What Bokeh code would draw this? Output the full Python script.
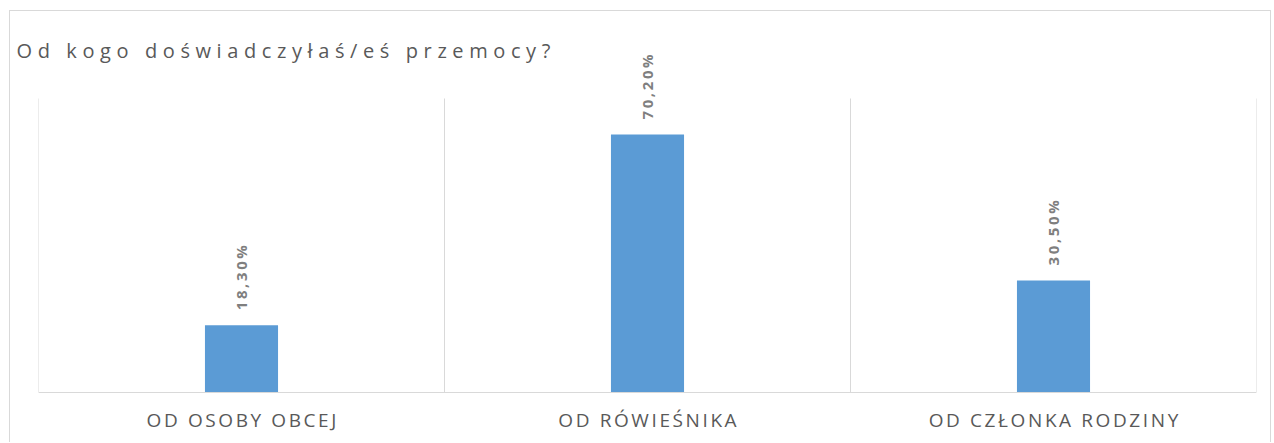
import math
from bokeh.plotting import figure
from bokeh.layouts import column
from bokeh.models import Range1d, ColumnDataSource, LabelSet, Span
from bokeh.embed import file_html
from bokeh.resources import INLINE
from bokeh.core.properties import value
from bokeh.core.validation import silence
from bokeh.core.validation.warnings import MISSING_RENDERERS

# ---- data ----
title_text = "Od kogo doświadczyłaś/eś przemocy?"
categories = ["OD OSOBY OBCEJ", "OD RÓWIEŚNIKA", "OD CZŁONKA RODZINY"]
values = [18.3, 70.2, 30.5]
value_labels = ["18,30%", "70,20%", "30,50%"]
Y_MAX = 80  # value-axis maximum of the plot area

FONT = "Open Sans"
GRID = "#d9d9d9"
BORDER = "1px solid #d9d9d9"
TITLE_SPACING = 5.6   # px letter spacing of the title
CHART_SPACING = 2.6   # px letter spacing of the chart texts

silence(MISSING_RENDERERS, True)

W, H_TITLE, H_CHART = 1262, 80, 432

# ---- title strip (drawn underneath the transparent chart) ----
tfig = figure(width=W, height=H_TITLE, x_range=(0, 1), y_range=(0, 1),
              output_backend="svg", toolbar_location=None, title=title_text,
              min_border_left=8, min_border_right=0, min_border_top=52,
              min_border_bottom=0)
tfig.title.text_font = FONT
tfig.title.text_font_size = "20px"
tfig.title.text_font_style = "normal"
tfig.title.text_color = "#595959"
tfig.title.align = "left"
tfig.title.standoff = 0
tfig.title.offset = -22
tfig.axis.visible = False
tfig.grid.visible = False
tfig.outline_line_color = None
tfig.styles = {"letter-spacing": f"{TITLE_SPACING}px", "border-top": BORDER,
               "border-left": BORDER, "border-right": BORDER}

# ---- chart ----
# plot-area geometry (pixels within the chart canvas)
AREA_TOP, AREA_BOTTOM = 88, 382          # where Y_MAX and 0 land
px_per_unit = (AREA_BOTTOM - AREA_TOP) / Y_MAX
y_start = -(H_CHART - AREA_BOTTOM) / px_per_unit
y_end = Y_MAX + AREA_TOP / px_per_unit

n = len(categories)
xpos = [i + 0.5 for i in range(n)]
bounds = list(range(n + 1))
src = ColumnDataSource(dict(x=xpos, top=values, label=value_labels))
cat_shift = [-(len(c) - 1) * CHART_SPACING / 2 for c in categories]
cat_src = ColumnDataSource(dict(x=xpos, y=[0] * n, label=categories,
                                dx=cat_shift))
sep_src = ColumnDataSource(dict(x=bounds, y0=[0] * len(bounds),
                                y1=[Y_MAX] * len(bounds)))

p = figure(width=W, height=H_CHART, x_range=Range1d(0, n),
           y_range=Range1d(y_start, y_end), output_backend="svg",
           toolbar_location=None, min_border_left=28, min_border_right=16,
           min_border_top=0, min_border_bottom=0,
           margin=(-H_TITLE, 0, 0, 0))
p.segment(x0="x", y0="y0", x1="x", y1="y1", source=sep_src,
          line_color=GRID, line_width=1)
p.add_layout(Span(location=0, dimension="width", line_color=GRID,
                  line_width=1))
p.vbar(x="x", top="top", bottom=0, width=0.18, source=src,
       fill_color="#5b9bd5", line_color=None)
p.add_layout(LabelSet(x="x", y="top", text="label", source=src,
                      angle=math.pi / 2, text_align="left",
                      text_baseline="middle", y_offset=15,
                      text_font=value(FONT), text_font_size="15px",
                      text_font_style="bold", text_color="#7f7f7f"))
p.add_layout(LabelSet(x="x", y="y", text="label", source=cat_src,
                      x_offset="dx", y_offset=-14, text_align="center",
                      text_baseline="top", text_font=value(FONT),
                      text_font_size="19px", text_color="#595959"))

p.axis.visible = False
p.grid.visible = False
p.outline_line_color = None
p.background_fill_color = None
p.border_fill_color = None
p.styles = {"letter-spacing": f"{CHART_SPACING}px", "border-left": BORDER,
            "border-right": BORDER}

layout = column(tfig, p, styles={"margin-top": "10px", "margin-left": "9px"})

open("out.html", "w").write(file_html(layout, INLINE))
